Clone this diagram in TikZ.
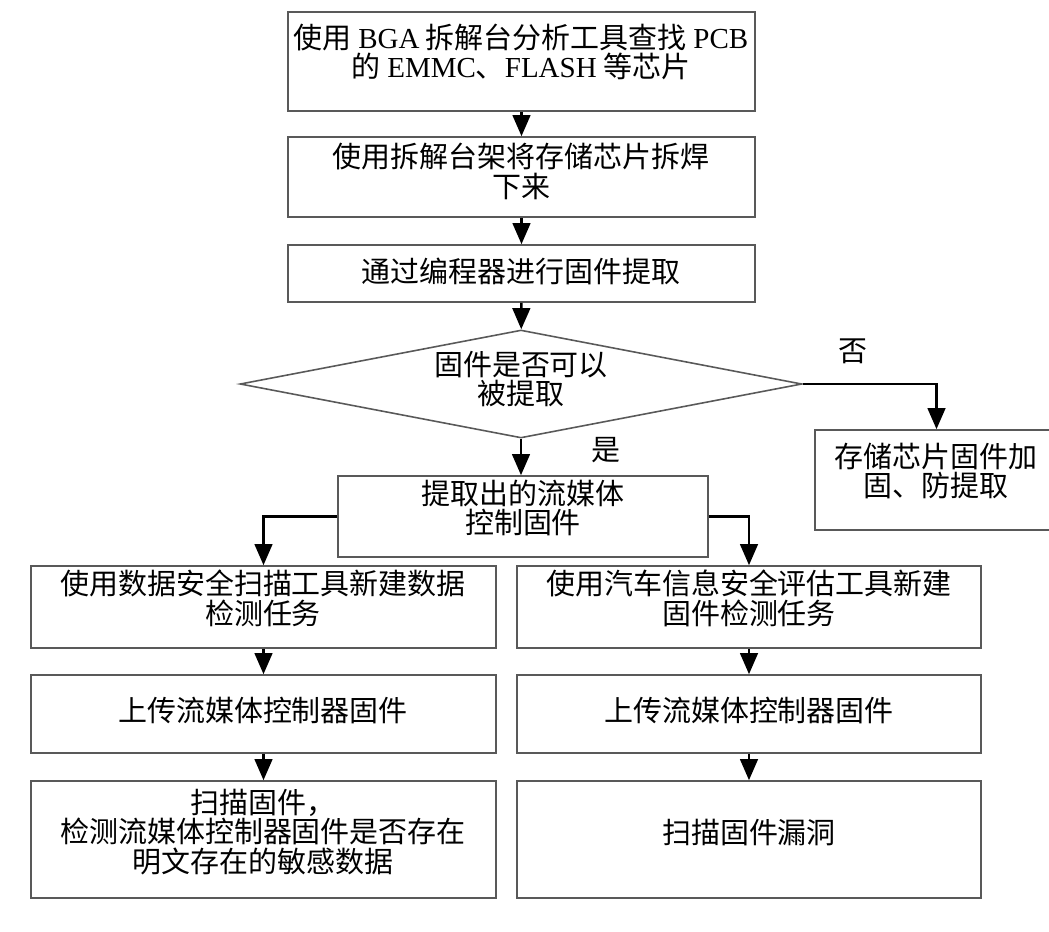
\documentclass[tikz,border=0pt]{standalone}
\usepackage{fontspec}
\setmainfont{Liberation Serif}
\newfontfamily\cjk{Noto Sans CJK SC}
\usetikzlibrary{shapes.geometric,arrows.meta,fit}

\tikzset{
  box/.style = {draw=black!65, line width=0.9pt, inner sep=0pt},
  txt/.style = {align=center, inner sep=0pt,
    font=\cjk\fontsize{16.5pt}{17pt}\selectfont},
  flow/.style = {line width=1.5pt, -{Triangle[length=12pt,width=10pt]}},
}

\begin{document}
\begin{tikzpicture}
        [x = 0.02cm, y = -0.02cm]
        \useasboundingbox (0,0) rectangle (1049,931);
        % top chain
        \node[box, fit={(288,12) (755,111)}] (b1) {};
        \node[txt] (t1) at (521,52) {使用 {\rmfamily BGA} 拆解台分析工具查找 {\rmfamily PCB}\\
          的 {\rmfamily EMMC}、{\rmfamily FLASH} 等芯片};
        \node[box, fit={(288,137) (755,217)}] (b2) {};
        \node[txt] (t2) at (521,171) {使用拆解台架将存储芯片拆焊\\下来};
        \node[box, fit={(288,245) (755,302)}] (b3) {};
        \node[txt] (t3) at (521,271) {通过编程器进行固件提取};
        \node[box, diamond, minimum width=11.24cm, minimum height=2.16cm] (dec) at (521,384) {};
        \node[txt] (td) at (521,379) {固件是否可以\\被提取};
        \node[box, fit={(815,430) (1058,530)}] (rb) {};
        \node[txt] (trb) at (936,471) {存储芯片固件加\\固、防提取};
        \node[txt] (no) at (853,351) {否};
        \node[txt] (yes) at (606,450) {是};
        \node[box, fit={(338,476) (708,557)}] (b4) {};
        \node[txt] (t4) at (523,508) {提取出的流媒体\\控制固件};
        % left column
        \node[box, fit={(31,566) (496,648)}] (l1) {};
        \node[txt] (tl1) at (263,598) {使用数据安全扫描工具新建数据\\检测任务};
        \node[box, fit={(31,675) (496,753)}] (l2) {};
        \node[txt] (tl2) at (263,710) {上传流媒体控制器固件};
        \node[box, fit={(31,781) (496,898)}] (l3) {};
        \node[txt] (tl3) at (263,832) {扫描固件，\\检测流媒体控制器固件是否存在\\明文存在的敏感数据};
        % right column
        \node[box, fit={(517,566) (981,648)}] (r1) {};
        \node[txt] (tr1) at (749,598) {使用汽车信息安全评估工具新建\\固件检测任务};
        \node[box, fit={(517,675) (981,753)}] (r2) {};
        \node[txt] (tr2) at (749,710) {上传流媒体控制器固件};
        \node[box, fit={(517,781) (981,898)}] (r3) {};
        \node[txt] (tr3) at (749,832) {扫描固件漏洞};
        % arrows
        \draw[flow] (b1) -- (b2);
        \draw[flow] (b2) -- (b3);
        \draw[flow] (b3) -- (dec);
        \draw[flow] (dec.south) -- (dec.south |- b4.north);
        \draw[flow] (dec.east) -| (rb.north);
        \draw[flow] (b4.west) -| (l1.north);
        \draw[flow] (b4.east) -| (r1.north);
        \draw[flow] (l1) -- (l2);
        \draw[flow] (l2) -- (l3);
        \draw[flow] (r1) -- (r2);
        \draw[flow] (r2) -- (r3);
      \end{tikzpicture}
\end{document}
